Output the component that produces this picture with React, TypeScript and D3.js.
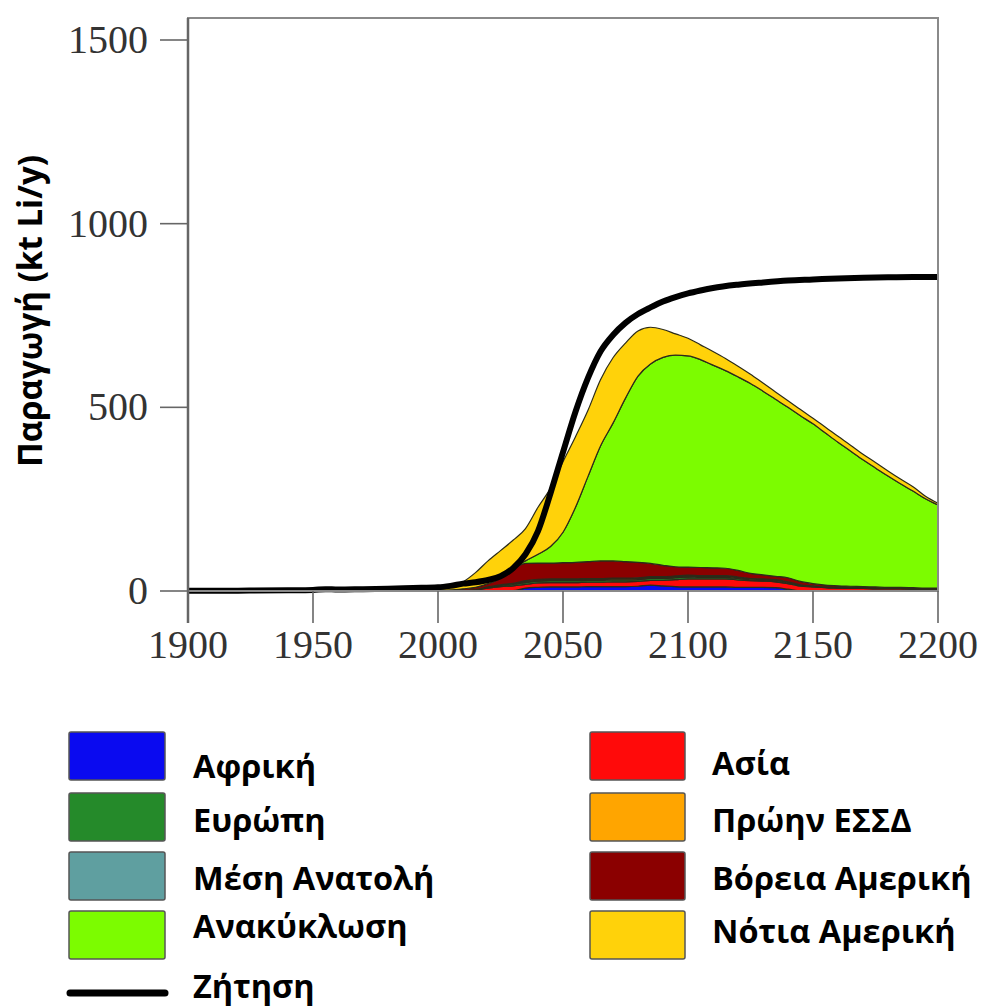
import React from 'react';
import * as d3 from 'd3';

// years shared by all production series
const years = [
  1900, 1950, 1990, 2000,
  2005, 2010, 2015, 2020, 2025, 2030, 2035, 2040, 2045, 2050,
  2055, 2060, 2065, 2070, 2075, 2080, 2085, 2090, 2095, 2100,
  2105, 2110, 2115, 2120, 2125, 2130, 2135, 2140, 2145, 2150,
  2155, 2160, 2165, 2170, 2175, 2180, 2185, 2190, 2195, 2200,
];

// production per region (kt Li/y), stacked bottom to top
const africa = [0, 0, 0, 0,
  0, 0, 0, 0, 0, 1, 8, 10, 11, 11, 11, 12, 12, 12, 12, 13, 16, 14, 12, 11,
  11, 11, 11, 10, 10, 10, 9, 5, 0, 0, 0, 0, 0, 0, 0, 0, 0, 0, 0, 0];
const asia = [0, 0, 0, 0,
  0, 1, 3, 8, 12, 13, 10, 12, 12, 12, 12, 12, 12, 13, 13, 13, 13, 15, 19, 22,
  22, 22, 22, 20, 18, 17, 16, 15, 13, 11, 9, 8, 7, 7, 6, 6, 6, 5, 5, 5];
const europe = [0, 0, 0, 0,
  0, 0, 1, 2, 3, 4, 5, 5, 5, 5, 5, 5, 5, 5, 5, 5, 5, 5, 5, 5,
  4, 4, 4, 4, 3, 3, 3, 2, 2, 1, 1, 1, 1, 1, 1, 1, 1, 1, 1, 1];
const middleEast = [0, 0, 0, 0,
  0, 0, 0, 0, 1, 1, 2, 2, 2, 2, 2, 2, 2, 2, 2, 2, 2, 2, 2, 2,
  2, 2, 2, 2, 1, 1, 1, 1, 1, 1, 0, 0, 0, 0, 0, 0, 0, 0, 0, 0];
const formerUssr = [0, 0, 0, 0,
  0, 0, 0, 1, 1, 2, 3, 3, 3, 3, 3, 3, 3, 3, 3, 3, 3, 3, 3, 3,
  3, 3, 3, 2, 2, 2, 2, 2, 1, 1, 1, 1, 1, 1, 0, 0, 0, 0, 0, 0];
const northAmerica = [0, 0, 1, 2,
  3, 5, 6, 9, 18, 39, 47, 44, 43, 44, 45, 46, 48, 47, 45, 42, 36, 31, 25, 22,
  22, 21, 20, 18, 14, 11, 9, 11, 9, 6, 5, 4, 4, 3, 4, 3, 3, 3, 2, 2];
const recycling = [0, 0, 0, 0,
  0, 0, 0, 0, 0, 2, 7, 24, 45, 83, 150, 232, 313, 375, 445, 507, 543, 566, 576, 575,
  566, 552, 538, 527, 517, 500, 482, 464, 451, 435, 414, 391, 368, 345, 324, 303, 282, 263, 243, 226];
const southAmerica = [0, 0, 2, 5,
  8, 19, 40, 62, 75, 76, 88, 128, 159, 192, 192, 180, 180, 178, 150, 123, 100, 76, 58, 48,
  40, 37, 33, 29, 25, 22, 20, 18, 17, 15, 16, 16, 16, 15, 15, 14, 13, 12, 7, 5];

// demand (kt Li/y)
const demandYears = [
  1900, 1920, 1940, 1950, 1955, 1960, 1970, 1980, 1990, 2000, 2005, 2010, 2015, 2020,
  2025, 2030, 2035, 2040, 2045, 2050, 2055, 2060, 2065, 2070, 2075, 2080, 2085, 2090,
  2095, 2100, 2105, 2110, 2120, 2130, 2140, 2150, 2160, 2170, 2180, 2190, 2200,
];
const demand = [
  1, 1, 2, 3, 5, 4, 5, 6, 8, 10, 14, 20, 24, 30,
  40, 62, 100, 163, 266, 378, 488, 580, 652, 697, 730, 754, 772, 788,
  800, 810, 818, 825, 834, 840, 845, 848, 851, 853, 854, 855, 855,
];

const xTicks = [1900, 1950, 2000, 2050, 2100, 2150, 2200];
const yTicks = [0, 500, 1000, 1500];

const series = [
  { key: 'africa', label: 'Αφρική', color: '#0a0af0', values: africa },
  { key: 'asia', label: 'Ασία', color: '#ff0a0a', values: asia },
  { key: 'europe', label: 'Ευρώπη', color: '#258a2a', values: europe },
  { key: 'middleEast', label: 'Μέση Ανατολή', color: '#5f9fa0', values: middleEast },
  { key: 'formerUssr', label: 'Πρώην ΕΣΣΔ', color: '#ffa500', values: formerUssr },
  { key: 'northAmerica', label: 'Βόρεια Αμερική', color: '#8b0000', values: northAmerica },
  { key: 'recycling', label: 'Ανακύκλωση', color: '#7cfc00', values: recycling },
  { key: 'southAmerica', label: 'Νότια Αμερική', color: '#ffd20a', values: southAmerica },
];

const leftLegend = ['africa', 'europe', 'middleEast', 'recycling'];
const rightLegend = ['asia', 'formerUssr', 'northAmerica', 'southAmerica'];

const W = 984;
const H = 1008;
const plot = { left: 188, right: 938, top: 18, bottom: 591 };

const swatchTops = [732, 793, 852, 911];
const leftBaselines = [778, 832, 890, 938];
const rightBaselines = [775, 832, 890, 943];

const sans = '"Open Sans", "Noto Sans", sans-serif';
const serif = '"Liberation Serif", "DejaVu Serif", serif';

export default function App() {
  const x = d3.scaleLinear().domain([1900, 2200]).range([plot.left, plot.right]);
  const y = d3.scaleLinear().domain([0, 1500]).range([plot.bottom, 40]);

  const table = years.map((yr, i) => {
    const row: any = { year: yr };
    series.forEach(s => { row[s.key] = s.values[i]; });
    return row;
  });
  const stacked = d3.stack().keys(series.map(s => s.key)).order(d3.stackOrderNone)(table);

  const area = d3.area<any>()
    .x(d => x(d.data.year))
    .y0(d => y(d[0]))
    .y1(d => y(d[1]))
    .curve(d3.curveMonotoneX);

  const demandLine = d3.line<number>()
    .x((_, i) => x(demandYears[i]))
    .y(d => y(d))
    .curve(d3.curveMonotoneX);

  const byKey = (k: string) => series.find(s => s.key === k)!;

  return (
    <svg width={W} height={H} style={{ position: 'absolute', left: 0, top: 0, background: '#fff' }}>
      <g>
        {stacked.map((layer, i) => (
          <path key={layer.key} d={area(layer as any) || ''} fill={series[i].color}
            stroke="#2b2b1a" strokeWidth={1.2} strokeLinejoin="round" />
        ))}
      </g>
      <path d={demandLine(demand) || ''} fill="none" stroke="#000" strokeWidth={6} strokeLinejoin="round" />

      {/* frame */}
      <rect x={plot.left} y={plot.top} width={plot.right - plot.left} height={plot.bottom - plot.top}
        fill="none" stroke="#8a8a8a" strokeWidth={2} />
      <line x1={plot.left} x2={plot.left} y1={plot.top} y2={plot.bottom + 32} stroke="#666" strokeWidth={2.5} />

      {yTicks.map(t => (
        <g key={t}>
          <line x1={plot.left - 28} x2={plot.left} y1={y(t)} y2={y(t)} stroke="#666" strokeWidth={1.6} />
          <text x={148} y={y(t) + 13} textAnchor="end" fontFamily={serif} fontSize={40} fill="#333">{t}</text>
        </g>
      ))}
      {xTicks.map(t => (
        <g key={t}>
          <line x1={x(t)} x2={x(t)} y1={plot.bottom} y2={plot.bottom + 32} stroke="#666" strokeWidth={1.6} />
          <text x={x(t)} y={658} textAnchor="middle" fontFamily={serif} fontSize={40} fill="#333">{t}</text>
        </g>
      ))}

      <text transform="translate(42,311) rotate(-90)" textAnchor="middle" fontFamily={sans}
        fontWeight={700} fontSize={34} textLength={312} lengthAdjust="spacingAndGlyphs"
        fill="#000">Παραγωγή (kt Li/y)</text>

      {/* legend */}
      {leftLegend.map((k, i) => (
        <g key={k}>
          <rect x={69} y={swatchTops[i]} width={96} height={48} rx={2} fill={byKey(k).color}
            stroke="#555" strokeWidth={1.5} />
          <text x={193} y={leftBaselines[i]} fontFamily={sans} fontWeight={700} fontSize={32.5} fill="#000">
            {byKey(k).label}
          </text>
        </g>
      ))}
      <line x1={70} x2={165} y1={993} y2={993} stroke="#000" strokeWidth={7} strokeLinecap="round" />
      <text x={193} y={998} fontFamily={sans} fontWeight={700} fontSize={32.5} fill="#000">Ζήτηση</text>

      {rightLegend.map((k, i) => (
        <g key={k}>
          <rect x={590} y={swatchTops[i]} width={95} height={48} rx={2} fill={byKey(k).color}
            stroke="#555" strokeWidth={1.5} />
          <text x={712} y={rightBaselines[i]} fontFamily={sans} fontWeight={700} fontSize={32.5} fill="#000">
            {byKey(k).label}
          </text>
        </g>
      ))}
    </svg>
  );
}
